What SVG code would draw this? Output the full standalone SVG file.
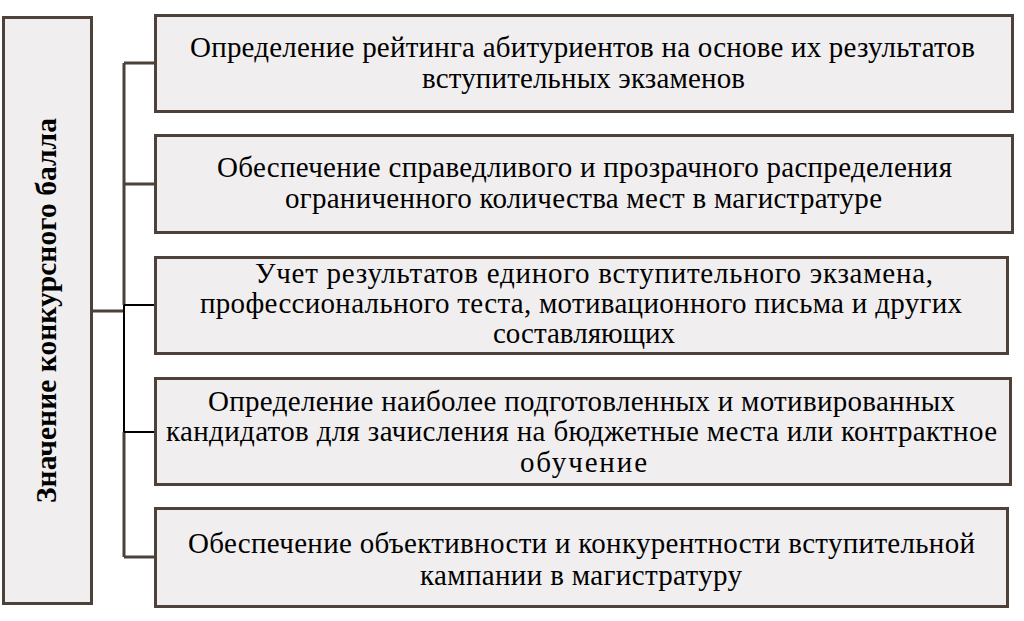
<svg xmlns="http://www.w3.org/2000/svg" width="1024" height="621" viewBox="0 0 1024 621">
<style>
.box{fill:#f0eeef;stroke:#4d4139;stroke-width:3}
.t{font-family:"Liberation Serif","Times New Roman",serif;font-size:29px;fill:#000}
.tb{font-family:"Liberation Serif","Times New Roman",serif;font-size:29.5px;font-weight:bold;fill:#000}
.c{fill:none;stroke:#4d4139;stroke-width:3}
.k{fill:none;stroke:#000;stroke-width:2}
</style>
<rect x="0" y="0" width="1024" height="621" fill="#ffffff"/>
<g id="connectors">
<path class="c" d="M92,311 H124 M124,63 V305 M124,432 V557 M124,63 H155 M124,184 H155 M124,557 H155"/>
<path class="k" d="M124,305 V432 M124,305 H155 M124,432 H155"/>
</g>
<g id="main">
<rect class="box" x="3.5" y="17.5" width="88" height="586"/>
<text class="tb" transform="translate(56,503) rotate(-90)" x="0" y="0" textLength="385" lengthAdjust="spacing">Значение конкурсного балла</text>
</g>
<g id="n1">
<rect class="box" x="155.5" y="15.5" width="857" height="96"/>
<text class="t" x="190" y="57" textLength="785" lengthAdjust="spacing">Определение рейтинга абитуриентов на основе их результатов</text>
<text class="t" x="422" y="88" textLength="323" lengthAdjust="spacing">вступительных экзаменов</text>
</g>
<g id="n2">
<rect class="box" x="155.5" y="135.5" width="857" height="97"/>
<text class="t" x="217" y="177" textLength="735" lengthAdjust="spacing">Обеспечение справедливого и прозрачного распределения</text>
<text class="t" x="285" y="208" textLength="597" lengthAdjust="spacing">ограниченного количества мест в магистратуре</text>
</g>
<g id="n3">
<rect class="box" x="155.5" y="257.5" width="852" height="96"/>
<text class="t" x="255" y="283" textLength="678" lengthAdjust="spacing">Учет результатов единого вступительного экзамена,</text>
<text class="t" x="200" y="313" textLength="762" lengthAdjust="spacing">профессионального теста, мотивационного письма и других</text>
<text class="t" x="493" y="343" textLength="182" lengthAdjust="spacing">составляющих</text>
</g>
<g id="n4">
<rect class="box" x="155.5" y="378.5" width="855" height="106"/>
<text class="t" x="208" y="411" textLength="747" lengthAdjust="spacing">Определение наиболее подготовленных и мотивированных</text>
<text class="t" x="166" y="441" textLength="831" lengthAdjust="spacing">кандидатов для зачисления на бюджетные места или контрактное</text>
<text class="t" x="520" y="472" textLength="127" lengthAdjust="spacing">обучение</text>
</g>
<g id="n5">
<rect class="box" x="155.5" y="508.5" width="852" height="98"/>
<text class="t" x="188" y="553" textLength="787" lengthAdjust="spacing">Обеспечение объективности и конкурентности вступительной</text>
<text class="t" x="420" y="585" textLength="322" lengthAdjust="spacing">кампании в магистратуру</text>
</g>
</svg>
